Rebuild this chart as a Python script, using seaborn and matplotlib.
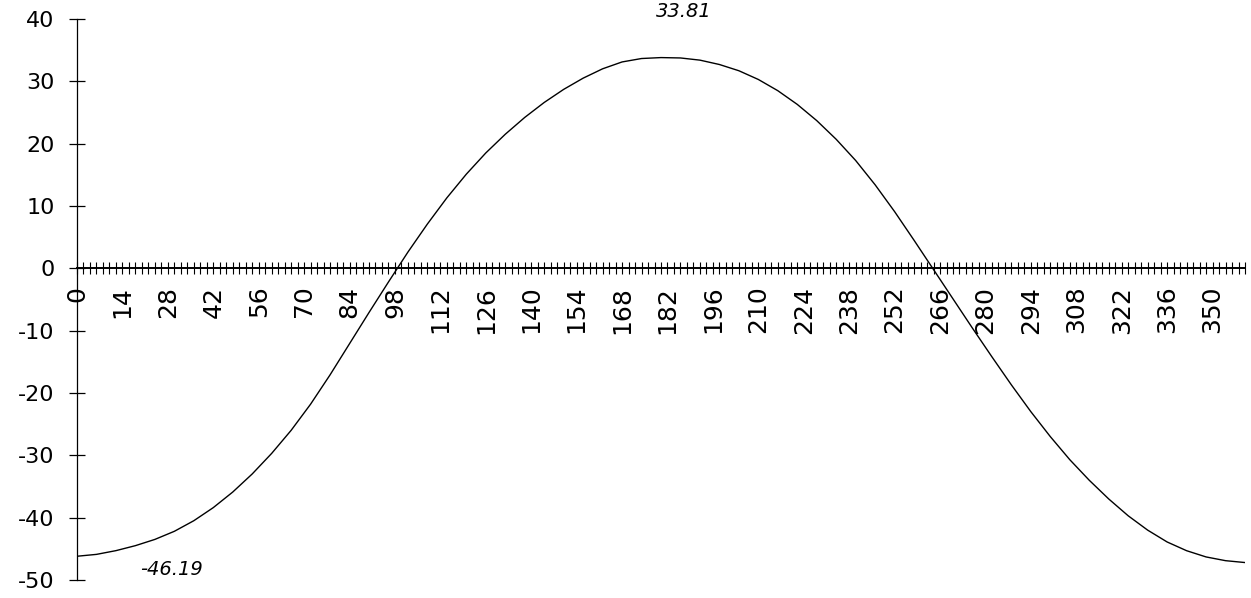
import matplotlib
matplotlib.use("Agg")
import matplotlib.pyplot as plt
import seaborn as sns
import pandas as pd

# ---- data ----
curve_angles = list(range(0, 361, 6))
curve_values = [
    -46.19, -45.89, -45.29, -44.49, -43.49, -42.19, -40.49, -38.39, -35.89, -32.99,
    -29.69, -25.99, -21.79, -17.09, -12.09, -7.09, -2.19, 2.61, 7.11, 11.31,
    15.11, 18.51, 21.51, 24.21, 26.61, 28.71, 30.51, 32.01, 33.11, 33.66,
    33.81, 33.75, 33.4, 32.7, 31.7, 30.3, 28.5, 26.3, 23.7, 20.7,
    17.3, 13.4, 9.1, 4.5, -0.2, -4.9, -9.6, -14.2, -18.7, -23.0,
    -27.0, -30.7, -34.0, -37.0, -39.7, -42.0, -43.9, -45.3, -46.3, -46.9,
    -47.2,
]
category_ticks = list(range(0, 361, 2))
x_tick_labels = [0, 14, 28, 42, 56, 70, 84, 98, 112, 126, 140, 154, 168, 182,
                 196, 210, 224, 238, 252, 266, 280, 294, 308, 322, 336, 350]
y_ticks = [-50, -40, -30, -20, -10, 0, 10, 20, 30, 40]
annotations = [("33.81", 187, 41.2), ("-46.19", 29, -48.3)]

df = pd.DataFrame({"angle": curve_angles, "value": curve_values})

sns.set_style("white")
plt.rcParams["font.family"] = ["DejaVu Sans"]

fig = plt.figure(figsize=(12.51, 5.98), dpi=100)
ax = fig.add_axes([77 / 1251, 1 - 580 / 598, (1245 - 77) / 1251, (580 - 19) / 598])

sns.lineplot(data=df, x="angle", y="value", ax=ax, color="black",
             linewidth=1.0, estimator=None, sort=True)

ax.set_xlim(0, 360)
ax.set_ylim(-50, 40)
ax.set_xlabel("")
ax.set_ylabel("")

for s in ["top", "right"]:
    ax.spines[s].set_visible(False)
ax.spines["bottom"].set_position(("data", 0))
ax.spines["bottom"].set_color("black")
ax.spines["bottom"].set_linewidth(1.4)
ax.spines["left"].set_color("black")
ax.spines["left"].set_linewidth(0.9)

ax.set_xticks(category_ticks)
ax.set_xticklabels([str(a) if a in x_tick_labels else "" for a in category_ticks],
                   rotation=90)
ax.set_yticks(y_ticks)
ax.set_yticklabels([str(v) for v in y_ticks])

ax.tick_params(axis="x", direction="inout", length=9, width=0.8, color="black",
               labelsize=18, labelcolor="black", pad=8, bottom=True)
ax.tick_params(axis="y", direction="inout", length=12, width=0.9, color="black",
               labelsize=16, labelcolor="black", pad=10, left=True)
for lab in ax.get_xticklabels():
    lab.set_va("top")

for txt, xa, ya in annotations:
    ax.text(xa, ya, txt, fontsize=14, style="italic", ha="center", va="center",
            clip_on=False, color="black")

fig.savefig("out.png", dpi=100, facecolor="white")
